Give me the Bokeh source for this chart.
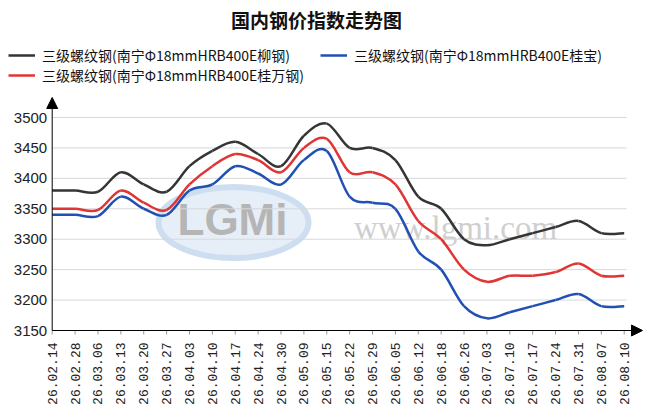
import numpy as np
from bokeh.plotting import figure
from bokeh.models import Legend, LegendItem, Arrow, NormalHead, Range1d
from bokeh.embed import file_html
from bokeh.resources import INLINE
from bokeh.core.properties import value

# ---------------- data ----------------
dates = ["26.02.14", "26.02.28", "26.03.06", "26.03.13", "26.03.20", "26.03.27",
         "26.04.03", "26.04.10", "26.04.17", "26.04.24", "26.04.30", "26.05.09",
         "26.05.15", "26.05.22", "26.05.29", "26.06.05", "26.06.12", "26.06.18",
         "26.06.26", "26.07.03", "26.07.10", "26.07.17", "26.07.24", "26.07.31",
         "26.08.07", "26.08.10"]

liugang = [3380, 3380, 3378, 3410, 3390, 3378, 3420, 3445, 3460, 3440, 3420, 3470,
           3490, 3450, 3450, 3430, 3370, 3350, 3300, 3290, 3300, 3310, 3320, 3330,
           3310, 3310]
guibao = [3340, 3340, 3338, 3370, 3350, 3340, 3380, 3390, 3420, 3408, 3390, 3430,
          3445, 3370, 3360, 3350, 3280, 3250, 3190, 3170, 3180, 3190, 3200, 3210,
          3190, 3190]
guiwan = [3350, 3350, 3348, 3380, 3360, 3348, 3390, 3420, 3440, 3430, 3410, 3450,
          3465, 3410, 3410, 3390, 3330, 3300, 3250, 3230, 3240, 3240, 3246, 3260,
          3240, 3240]

series_names = ["三级螺纹钢(南宁Φ18mmHRB400E柳钢)",
                "三级螺纹钢(南宁Φ18mmHRB400E桂宝)",
                "三级螺纹钢(南宁Φ18mmHRB400E桂万钢)"]
series_colors = ["#353535", "#2150b4", "#e03535"]

y_ticks = [3150, 3200, 3250, 3300, 3350, 3400, 3450, 3500]
y_tick_labels = [str(t) for t in y_ticks]
title_text = "国内钢价指数走势图"

# ---------------- layout (pixels) ----------------
W, H = 650, 412
LEFT_PX = 51.7          # pixel column of the first category
STEP_PX = 22.88         # pixels between categories
BASE_PY = 330           # pixel row of the lowest tick
PX_PER_UNIT = 213 / 350  # vertical pixels per price unit


def x_at(px):
    return (px - LEFT_PX) / STEP_PX


def y_at(py):
    return y_ticks[0] + (BASE_PY - py) / PX_PER_UNIT


p = figure(width=W, height=H, output_backend="svg", toolbar_location=None,
           x_range=Range1d(x_at(0), x_at(W)), y_range=Range1d(y_at(H), y_at(0)),
           min_border=0, x_axis_type=None, y_axis_type=None, title=None,
           background_fill_color="white", border_fill_color="white")
p.outline_line_color = None
p.grid.visible = False

x_idx = np.arange(len(dates), dtype=float)
y_base = y_ticks[0]

# watermark (lowest level)
p.ellipse(x=[x_at(233)], y=[y_at(222)], width=150, height=71, width_units="screen",
          height_units="screen", fill_color="#e6eef8", line_color="#cddef0",
          line_width=6, level="image")
p.text(x=[x_at(232)], y=[y_at(219)], text=["LGMi"], text_font=value("Liberation Sans"),
       text_font_size="44px", text_font_style="bold", text_color="#b5b5b5",
       text_align="center", text_baseline="middle", level="image")
p.text(x=[x_at(455)], y=[y_at(227)], text=["www.lgmi.com"],
       text_font=value("Liberation Serif"), text_font_size="33px",
       text_color="#cfcfcf", text_align="center", text_baseline="middle",
       level="image")

# horizontal grid lines
p.segment(x0=0, x1=x_at(626), y0=y_ticks, y1=y_ticks, line_color="#d8d8d8",
          line_width=1, level="underlay")

# x tick marks
p.segment(x0=x_idx, x1=x_idx, y0=y_base, y1=y_at(BASE_PY + 4), line_color="#999999",
          line_width=1)

# y tick labels
p.text(x=[0] * len(y_ticks), y=y_ticks, text=y_tick_labels, x_offset=-5,
       text_font=value("Liberation Sans"), text_font_size="15px", text_color="#222222",
       text_align="right", text_baseline="middle")

# x tick labels (rotated)
p.text(x=x_idx, y=[y_base] * len(dates), text=dates, angle=np.pi / 2, y_offset=12,
       text_font=value("Liberation Mono"), text_font_size="13px", text_color="#222222",
       text_align="right", text_baseline="middle")

# title
p.text(x=[x_at(316)], y=[y_at(18.5)], text=[title_text],
       text_font=value("Noto Sans CJK SC"), text_font_size="19px",
       text_font_style="bold", text_color="#111111",
       text_align="center", text_baseline="middle")


# smooth curves (Catmull-Rom as cubic Bezier segments)
def bezier_parts(xs, ys):
    xs = np.asarray(xs, float)
    ys = np.asarray(ys, float)
    n = len(xs)
    qx = np.concatenate([[xs[0]], xs, [xs[-1]]])
    qy = np.concatenate([[ys[0]], ys, [ys[-1]]])
    x0, y0 = qx[1:n], qy[1:n]
    x1, y1 = qx[2:n + 1], qy[2:n + 1]
    cx0 = x0 + (qx[2:n + 1] - qx[0:n - 1]) / 6
    cy0 = y0 + (qy[2:n + 1] - qy[0:n - 1]) / 6
    cx1 = x1 - (qx[3:n + 2] - qx[1:n]) / 6
    cy1 = y1 - (qy[3:n + 2] - qy[1:n]) / 6
    return dict(x0=x0, y0=y0, x1=x1, y1=y1, cx0=cx0, cy0=cy0, cx1=cx1, cy1=cy1)


legend_renderers = []
for vals, col in zip([liugang, guibao, guiwan], series_colors):
    p.bezier(source=bezier_parts(x_idx, vals), x0="x0", y0="y0", x1="x1", y1="y1",
             cx0="cx0", cy0="cy0", cx1="cx1", cy1="cy1",
             line_color=col, line_width=2.5)
    legend_renderers.append(p.line(x=[np.nan], y=[np.nan], line_color=col,
                                   line_width=2.5))


def make_legend(items, row_center_py):
    return Legend(items=items, location=(8, H - row_center_py - 10.2),
                  orientation="horizontal",
                  glyph_width=27, glyph_height=16, label_standoff=7, spacing=30,
                  padding=0, margin=0, border_line_alpha=0, background_fill_alpha=0,
                  label_text_font="Noto Sans CJK SC", label_text_font_size="14px",
                  label_text_color="#111111", label_height=16)


leg_top = make_legend([LegendItem(label=series_names[0], renderers=[legend_renderers[0]]),
                       LegendItem(label=series_names[1], renderers=[legend_renderers[1]])],
                      54.5)
leg_red = make_legend([LegendItem(label=series_names[2], renderers=[legend_renderers[2]])],
                      75.0)
p.add_layout(leg_top, "center")
p.add_layout(leg_red, "center")

# axis lines with arrow heads
p.add_layout(Arrow(end=NormalHead(size=11, fill_color="black", line_color="black"),
                   x_start=0, y_start=y_base, x_end=0, y_end=y_at(97),
                   line_color="black", line_width=1))
p.add_layout(Arrow(end=NormalHead(size=11, fill_color="black", line_color="black"),
                   x_start=0, y_start=y_base, x_end=x_at(642), y_end=y_base,
                   line_color="black", line_width=1))

open("out.html", "w").write(file_html(p, INLINE))
